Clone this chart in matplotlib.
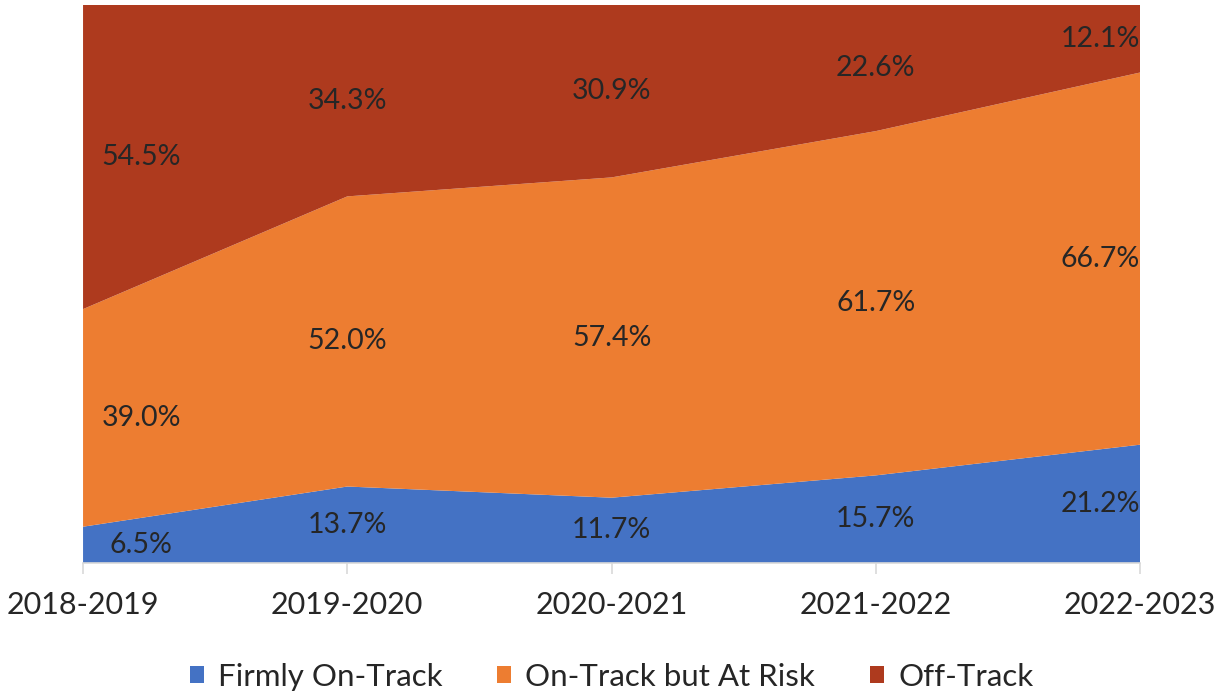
import matplotlib
matplotlib.use("Agg")
import matplotlib.pyplot as plt
from matplotlib.patches import Patch
import numpy as np

plt.rcParams['font.family'] = ['Lato', 'DejaVu Sans']

years = ["2018-2019", "2019-2020", "2020-2021", "2021-2022", "2022-2023"]
firmly_on_track = [6.5, 13.7, 11.7, 15.7, 21.2]
on_track_at_risk = [39.0, 52.0, 57.4, 61.7, 66.7]
off_track = [54.5, 34.3, 30.9, 22.6, 12.1]

series_names = ["Firmly On-Track", "On-Track but At Risk", "Off-Track"]
colors = ["#4472C4", "#ED7D31", "#AE3A1E"]

fig = plt.figure(figsize=(12.23, 6.94), dpi=100)
ax = fig.add_axes([0.0679, 0.1888, 0.8643, 0.804])

x = np.arange(len(years))
series = [firmly_on_track, on_track_at_risk, off_track]
ax.stackplot(x, *series, colors=colors, linewidth=0)

ax.set_xlim(0, len(years) - 1)
ax.set_ylim(0, 100)

# value labels centred in each band; end labels nudged inward
base = np.zeros(len(years))
for vals in series:
    vals = np.array(vals)
    mids = base + vals / 2
    for i, (v, m) in enumerate(zip(vals, mids)):
        xi = x[i]
        if i == 0:
            xi += 0.22
        elif i == len(years) - 1:
            xi -= 0.15
        ax.text(xi, m, f"{v:.1f}%", ha="center", va="center",
                fontsize=20.5, color="#262626")
    base = base + vals

for s in ["top", "right", "left"]:
    ax.spines[s].set_visible(False)
ax.spines["bottom"].set_color("#D9D9D9")
ax.spines["bottom"].set_linewidth(1.2)
ax.set_yticks([])
ax.set_xticks(x)
ax.set_xticklabels(years, fontsize=22, color="#262626")
ax.tick_params(axis="x", length=8, width=1.2, color="#D9D9D9", pad=12)

handles = [Patch(facecolor=c, edgecolor="none") for c in colors]
fig.legend(handles, series_names, loc="center", bbox_to_anchor=(0.5, 0.025),
           ncol=3, frameon=False, fontsize=22.5, handlelength=0.45,
           handleheight=0.45, handletextpad=0.45, columnspacing=1.75,
           labelcolor="#262626")

fig.savefig("out.png", dpi=100, facecolor="white")
